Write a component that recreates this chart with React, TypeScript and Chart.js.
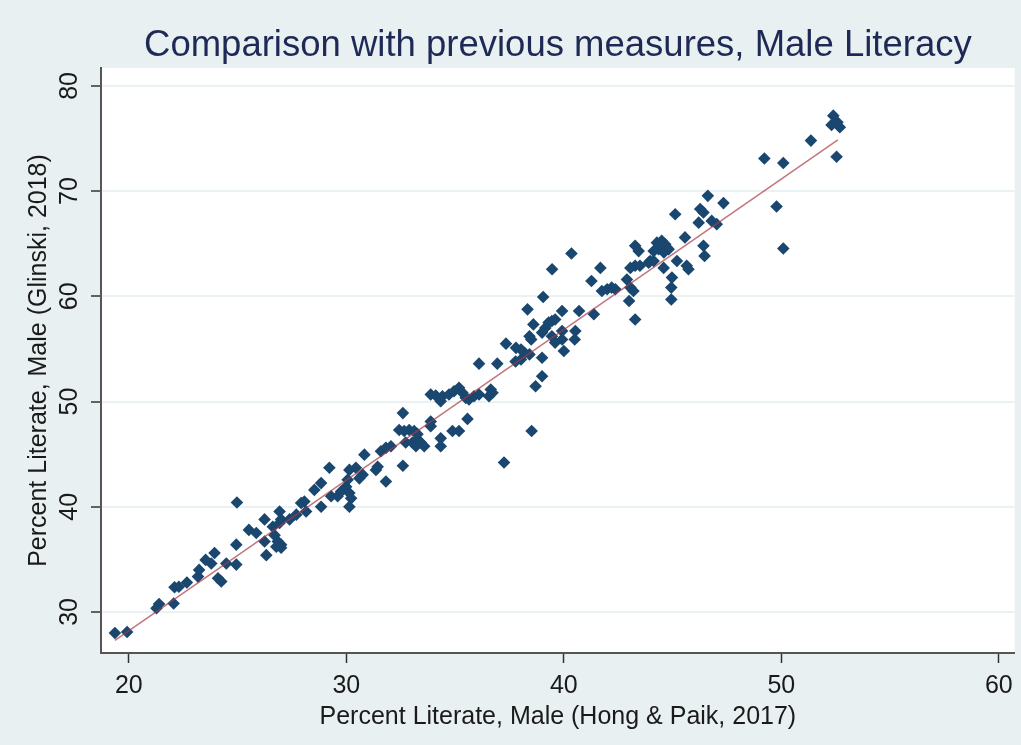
import React, { useEffect, useRef } from "react";
import { Chart, registerables } from "chart.js";

Chart.register(...registerables);

// Percent literate, male (Hong & Paik, 2017)
const hongPaikX = [
  19.36, 19.92, 21.27, 21.39, 22.06, 22.1, 22.3, 22.67, 23.23, 23.18,
  23.53, 23.94, 23.79, 24.1, 24.25, 24.48, 24.94, 24.97, 24.94, 25.52,
  25.86, 26.24, 26.24, 26.32, 26.62, 26.93, 27.0, 26.78, 27.39, 27.7,
  26.7, 26.85, 27.0, 27.0, 26.93, 27.92, 28.07, 28.15, 28.53, 28.84,
  28.84, 29.22, 29.3, 29.6, 29.76, 29.99, 30.06, 30.14, 30.22, 30.14,
  30.14, 30.44, 30.83, 30.75, 30.6, 31.36, 31.44, 31.82, 31.59, 31.82,
  32.05, 32.6, 32.6, 32.43, 32.66, 32.89, 33.12, 33.27, 32.73, 33.04,
  33.27, 33.42, 33.58, 33.2, 33.88, 33.88, 34.34, 34.34, 34.88, 35.18,
  35.57, 33.88, 34.11, 34.34, 34.42, 34.72, 34.95, 35.18, 35.34, 35.49,
  35.64, 35.87, 36.1, 36.64, 36.72, 36.56, 36.1, 36.94, 37.78, 37.25,
  38.52, 38.7, 39.0, 37.34, 37.8, 38.03, 38.19, 38.03, 38.42, 38.33,
  38.6, 38.42, 38.5, 39.0, 39.05, 39.15, 39.3, 39.45, 39.6, 39.46,
  39.0, 39.45, 39.6, 39.92, 40.0, 39.92, 39.92, 40.35, 40.53, 40.5,
  40.7, 41.38, 41.27, 41.68, 41.75, 41.99, 42.2, 42.37, 42.9, 43.06,
  43.2, 43.0, 43.28, 43.06, 43.28, 43.5, 43.28, 43.44, 43.97, 44.13,
  44.28, 44.5, 44.66, 44.74, 44.82, 44.36, 44.6, 43.9, 44.13, 44.59,
  45.12, 45.2, 44.97, 44.94, 44.94, 45.57, 45.65, 45.73, 46.27, 46.42,
  46.2, 46.42, 46.47, 46.8, 47.03, 46.62, 47.34, 52.39, 52.31, 52.58,
  52.69, 51.36, 49.22, 50.09, 52.54, 49.78, 50.09,
];

// Percent literate, male (Glinski, 2018)
const glinskiY = [
  28.0, 28.1, 30.35, 30.76, 30.8, 32.35, 32.4, 32.8, 34.0, 33.36,
  34.95, 35.6, 34.6, 33.2, 32.9, 34.6, 34.5, 40.4, 36.4, 37.8,
  37.5, 38.8, 36.7, 35.4, 38.1, 39.55, 38.8, 36.2, 38.8, 39.25,
  37.3, 36.7, 36.4, 36.1, 38.45, 40.35, 40.5, 39.55, 41.6, 42.25,
  40.0, 43.7, 41.0, 41.0, 41.45, 41.9, 42.57, 41.3, 40.8, 40.0,
  43.5, 43.7, 44.95, 43.05, 42.7, 43.5, 43.8, 42.4, 45.27, 45.6,
  45.75, 48.9, 43.9, 47.3, 47.2, 47.3, 47.2, 46.9, 46.1, 46.1,
  46.4, 46.1, 45.75, 45.75, 48.1, 47.65, 46.5, 45.75, 47.2, 47.2,
  48.35, 50.67, 50.57, 50.03, 50.5, 50.67, 50.98, 51.3, 50.83, 50.35,
  50.19, 50.5, 50.67, 51.14, 50.83, 50.5, 53.6, 53.6, 53.8, 44.2,
  47.2, 51.45, 52.4, 55.5, 55.1, 54.95, 54.64, 54.0, 54.48, 58.76,
  57.33, 56.2, 55.9, 54.16, 59.93, 57.0, 57.5, 57.65, 57.8, 62.57,
  56.55, 56.2, 55.6, 55.9, 54.8, 56.7, 58.6, 64.07, 56.7, 55.9,
  58.6, 58.3, 61.46, 62.7, 60.5, 60.67, 60.83, 60.67, 61.6, 60.83,
  60.5, 59.55, 57.8, 62.7, 62.9, 62.9, 64.8, 64.3, 63.36, 64.3,
  65.1, 65.27, 64.95, 64.64, 64.48, 64.48, 64.16, 63.2, 63.36, 62.7,
  67.8, 63.36, 61.78, 60.83, 59.7, 65.6, 62.9, 62.57, 68.3, 67.97,
  67.0, 64.8, 63.84, 67.17, 66.86, 69.55, 68.86, 77.17, 76.29, 76.54,
  76.07, 74.8, 73.1, 72.67, 73.27, 68.54, 64.54,
];

// Linear fit line endpoints
const fitX = [19.36, 52.6];
const fitY = [27.3, 74.86];

const xTicks = [20, 30, 40, 50, 60];
const yTicks = [30, 40, 50, 60, 70, 80];

const TITLE = "Comparison with previous measures, Male Literacy";
const X_TITLE = "Percent Literate, Male (Hong & Paik, 2017)";
const Y_TITLE = "Percent Literate, Male (Glinski, 2018)";

const FONT = "'Liberation Sans', Arial, sans-serif";
const BG = "#e9f0f2";

const bgPlugin = {
  id: "bgPlugin",
  beforeDraw(chart: any) {
    const { ctx, chartArea } = chart;
    ctx.save();
    ctx.fillStyle = BG;
    ctx.fillRect(0, 0, chart.width, chart.height);
    ctx.fillStyle = "#ffffff";
    ctx.fillRect(
      chartArea.left,
      chartArea.top,
      chartArea.right - chartArea.left,
      chartArea.bottom - chartArea.top
    );
    ctx.restore();
  },
  afterDraw(chart: any) {
    const { ctx, chartArea } = chart;
    ctx.save();
    ctx.fillStyle = "#1e2a55";
    ctx.font = `36.5px ${FONT}`;
    ctx.textAlign = "center";
    ctx.textBaseline = "middle";
    ctx.fillText(TITLE, (chartArea.left + chartArea.right) / 2, 46);
    ctx.restore();
  },
};

export default function App() {
  const ref = useRef<HTMLCanvasElement | null>(null);

  useEffect(() => {
    document.body.style.margin = "0";
    document.body.style.background = BG;
    const canvas = ref.current;
    if (!canvas) return;
    const points = hongPaikX.map((x, i) => ({ x, y: glinskiY[i] }));
    const fit = fitX.map((x, i) => ({ x, y: fitY[i] }));

    const chart = new Chart(canvas, {
      type: "scatter",
      data: {
        datasets: [
          {
            type: "line",
            label: "Fitted values",
            data: fit,
            borderColor: "rgba(165,60,68,0.7)",
            borderWidth: 1.5,
            pointRadius: 0,
            fill: false,
            order: 0,
          } as any,
          {
            label: "Glinski",
            data: points,
            pointStyle: "rectRot",
            pointRadius: 6.3,
            backgroundColor: "#1a476f",
            borderColor: "#1a476f",
            borderWidth: 0,
            order: 1,
          },
        ],
      },
      options: {
        responsive: false,
        animation: false,
        layout: { padding: { top: 68, left: 0, right: 4, bottom: 0 } },
        plugins: {
          legend: { display: false },
          tooltip: { enabled: false },
          title: { display: false },
        },
        scales: {
          x: {
            type: "linear",
            min: 18.72,
            max: 60.73,
            afterBuildTicks: (s: any) => {
              s.ticks = xTicks.map((v) => ({ value: v }));
            },
            afterFit: (s: any) => {
              s.height = 92;
            },
            grid: {
              drawOnChartArea: false,
              drawTicks: true,
              tickLength: 10,
              tickColor: "#333333",
              tickWidth: 1.5,
            },
            border: { display: true, color: "#555555", width: 2 },
            ticks: {
              color: "#1a1a1a",
              font: { family: FONT, size: 25 },
              padding: 8,
              maxRotation: 0,
              autoSkip: false,
            },
            title: {
              display: true,
              text: X_TITLE,
              color: "#1a1a1a",
              font: { family: FONT, size: 25 },
              padding: { top: 0, bottom: 13 },
            },
          },
          y: {
            type: "linear",
            min: 26.1,
            max: 81.7,
            afterBuildTicks: (s: any) => {
              s.ticks = yTicks.map((v) => ({ value: v }));
            },
            afterFit: (s: any) => {
              s.width = 101;
            },
            grid: {
              color: "#eaf2f3",
              lineWidth: 2,
              drawTicks: true,
              tickLength: 10,
              tickColor: "#333333",
              tickWidth: 1.5,
            },
            border: { display: true, color: "#555555", width: 2 },
            ticks: {
              color: "#1a1a1a",
              font: { family: FONT, size: 25 },
              padding: 7,
              minRotation: 90,
              maxRotation: 90,
              crossAlign: "center",
              autoSkip: false,
            },
            title: {
              display: true,
              text: Y_TITLE,
              color: "#1a1a1a",
              font: { family: FONT, size: 25 },
              padding: { top: 24, bottom: 0 },
            },
          },
        },
      } as any,
      plugins: [bgPlugin],
    });
    return () => chart.destroy();
  }, []);

  return (
    <div style={{ width: 1021, height: 745 }}>
      <canvas ref={ref} width={1021} height={745} style={{ display: "block" }} />
    </div>
  );
}
